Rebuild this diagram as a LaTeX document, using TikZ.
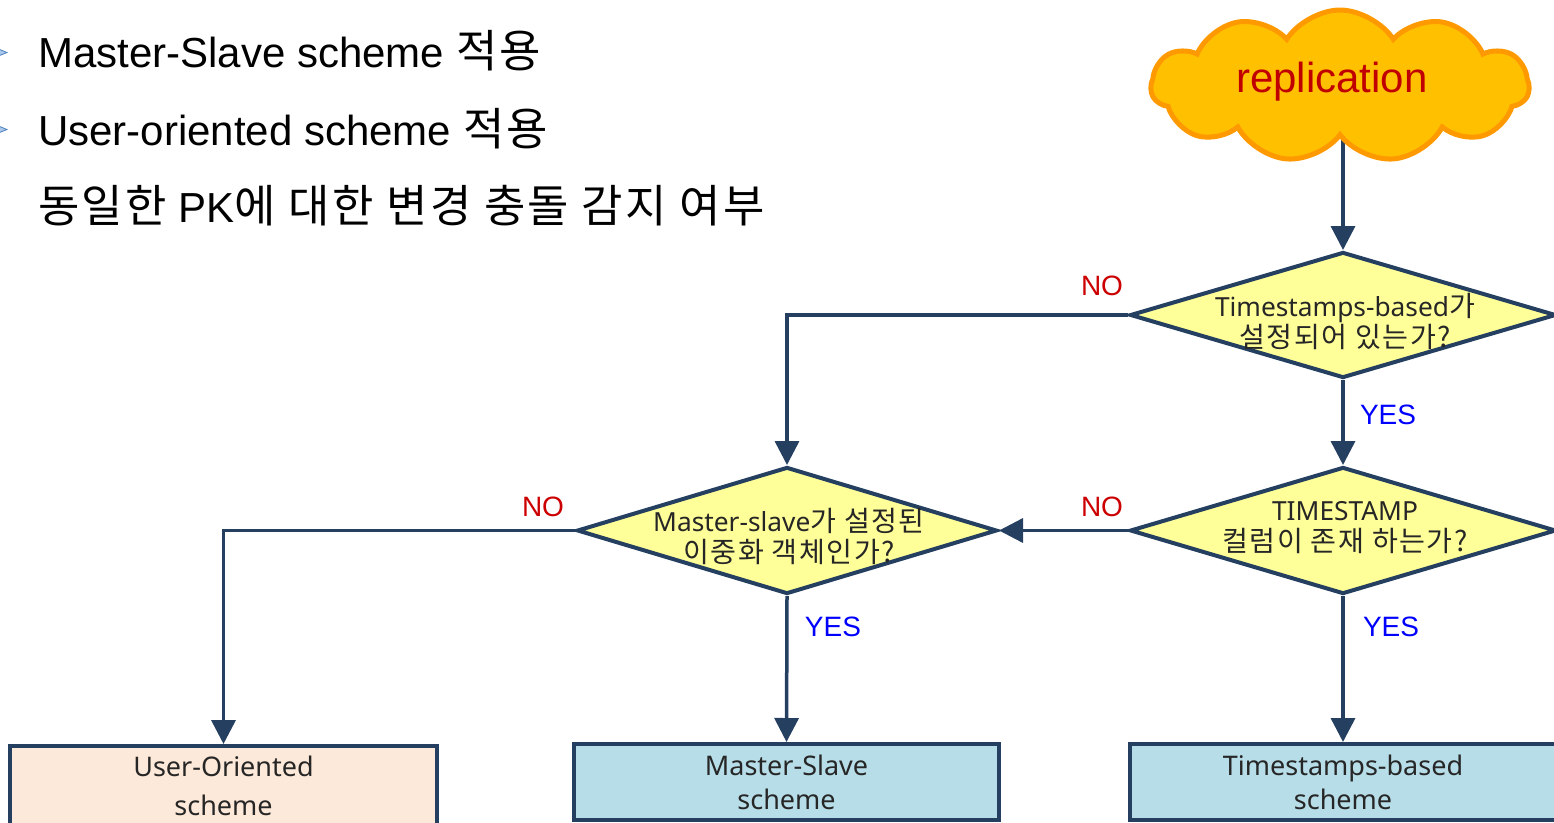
\documentclass[tikz,border=0pt]{standalone}
\usepackage{fontspec}
\usetikzlibrary{shapes.geometric,shapes.symbols,arrows.meta,backgrounds}
\setmainfont{Liberation Sans}
\newfontfamily\kofont[Scale=1.07, LetterSpace=5.5]{Noto Sans CJK KR}
\newfontfamily\notofont{Noto Sans}
\newcommand\ko[1]{{\kofont #1}}

\definecolor{navy}{HTML}{243F60}
\definecolor{decfill}{HTML}{FFFF99}
\definecolor{peach}{HTML}{FDE9D9}
\definecolor{skyfill}{HTML}{B7DDE8}
\definecolor{cloudfill}{HTML}{FFC000}
\definecolor{cloudedge}{HTML}{FF9900}
\definecolor{repred}{HTML}{C00000}
\definecolor{nored}{HTML}{CC0000}
\definecolor{yesblue}{HTML}{0000FF}
\definecolor{inktext}{HTML}{262626}
\definecolor{bulletfill}{HTML}{A9C8EC}
\definecolor{bulletedge}{HTML}{4F81BD}

\tikzset{
  title/.style={font=\fontsize{42}{48}\selectfont, text=black, inner sep=0pt, anchor=base west},
  decision/.style={diamond, draw=navy, line width=4pt, fill=decfill, inner sep=0pt,
    minimum width=426pt, minimum height=126pt},
  dectext/.style={font=\notofont\fontsize{26.3}{31}\selectfont, text=inktext, align=center, inner sep=0pt},
  result/.style={rectangle, draw=navy, line width=4pt, inner sep=0pt,
    font=\notofont\fontsize{27}{34}\selectfont, text=inktext, align=center},
  flow/.style={draw=navy, line width=3.5pt, -{Triangle[length=24pt,width=24pt]}},
  nolabel/.style={font=\fontsize{28}{30}\selectfont, text=nored, inner sep=0pt},
  yeslabel/.style={font=\fontsize{28}{30}\selectfont, text=yesblue, inner sep=0pt},
}

\begin{document}
\begin{tikzpicture}[x=1pt, y=-1pt]
\useasboundingbox (0,0) rectangle (1554,822);
\clip (0,0) rectangle (1554,822);

% bullet points and heading lines
\filldraw[fill=bulletfill, draw=bulletedge, line width=0.8pt] (-4,48) -- (7,52.5) -- (-4,57) -- cycle;
\filldraw[fill=bulletfill, draw=bulletedge, line width=0.8pt] (-4,125) -- (7,129.5) -- (-4,134) -- cycle;
\node[title] (t1) at (38,67) {Master-Slave scheme \ko{적용}};
\node[title] (t2) at (38,145) {User-oriented scheme \ko{적용}};
\node[title] (t3) at (38,222) {\ko{동일한} PK\ko{에 대한 변경 충돌 감지 여부}};

% start cloud
\node[cloud, cloud puffs=11, cloud puff arc=115, cloud ignores aspect,
      minimum width=378pt, minimum height=152pt, inner sep=0pt,
      draw=cloudedge, line width=5pt, fill=cloudfill] (cloud) at (1340,86) {};
\node[font=\fontsize{42}{48}\selectfont, text=repred, inner sep=0pt] (rep) at (1332,82) {replication};

% decisions
\node[decision] (d1) at (1343,315) {};
\node[dectext] (d1txt) at (1345,321) {Timestamps-based\ko{가}\\\ko{설정되어 있는가?}};
\node[decision, minimum width=420pt, minimum height=127pt] (d2) at (787,530.5) {};
\node[dectext] (d2txt) at (789,536) {Master-slave\ko{가 설정된}\\\ko{이중화 객체인가?}};
\node[decision, minimum height=127pt] (d3) at (1343,530.5) {};
\node[dectext] (d3txt) at (1345,528) {TIMESTAMP\\\ko{컬럼이 존재 하는가?}};

% outcomes
\node[result, fill=peach, minimum width=427pt, minimum height=80pt,
      font=\notofont\fontsize{27}{39}\selectfont] (box1) at (223.5,786) {User-Oriented\\scheme};
\node[result, fill=skyfill, minimum width=425pt, minimum height=76pt] (box2) at (786.5,782) {Master-Slave\\scheme};
\node[result, fill=skyfill, minimum width=426pt, minimum height=76pt] (box3) at (1343,782) {Timestamps-based\\scheme};

% connectors; the first one runs behind the cloud
\begin{scope}[on background layer]
\draw[flow] (d1.north |- cloud.center) -- (d1.north);
\end{scope}
\draw[flow] (d1.west) -| (d2.north);
\draw[flow] (d1.south) -- (d3.north);
\draw[flow] (d3.west) -- (d2.east);
\draw[flow] (d2.west) -| (box1.north);
\draw[flow] (d2.south) -- (box2.north);
\draw[flow] (d3.south) -- (box3.north);

% branch labels
\node[nolabel] (no1) at (1102,286) {NO};
\node[yeslabel] (yes1) at (1388,415) {YES};
\node[nolabel] (no2) at (1102,507) {NO};
\node[nolabel] (no3) at (543,507) {NO};
\node[yeslabel] (yes2) at (833,627) {YES};
\node[yeslabel] (yes3) at (1391,627) {YES};
\end{tikzpicture}
\end{document}
